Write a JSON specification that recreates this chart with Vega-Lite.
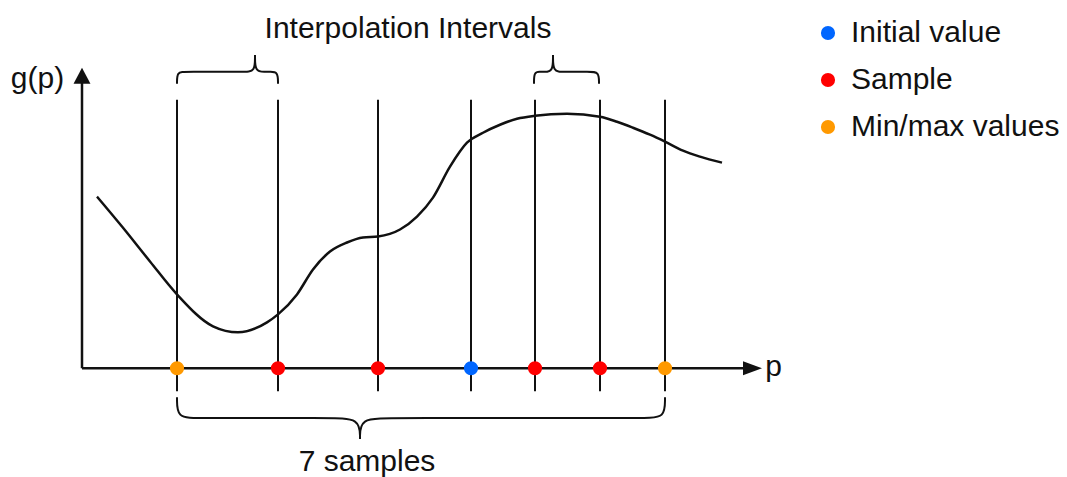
{
  "$schema": "https://vega.github.io/schema/vega-lite/v6.json",
  "width": 1067,
  "height": 477,
  "autosize": {"type": "fit", "contains": "padding"},
  "padding": 0,
  "background": "white",
  "config": {"view": {"stroke": null}},
  "datasets": {
    "curve": [
      {"p": 15, "g": 172}, {"p": 40, "g": 142}, {"p": 68, "g": 107}, {"p": 95, "g": 74},
      {"p": 131, "g": 42}, {"p": 156, "g": 36}, {"p": 185, "g": 46}, {"p": 196, "g": 54},
      {"p": 215, "g": 74}, {"p": 231, "g": 99}, {"p": 248, "g": 117}, {"p": 265, "g": 126},
      {"p": 281, "g": 131}, {"p": 296, "g": 132}, {"p": 318, "g": 139}, {"p": 335, "g": 152},
      {"p": 351, "g": 171}, {"p": 368, "g": 202}, {"p": 385, "g": 226}, {"p": 401, "g": 236},
      {"p": 418, "g": 244}, {"p": 435, "g": 250}, {"p": 453, "g": 253}, {"p": 485, "g": 255},
      {"p": 518, "g": 252}, {"p": 535, "g": 247}, {"p": 551, "g": 241}, {"p": 568, "g": 234},
      {"p": 583, "g": 227}, {"p": 601, "g": 218}, {"p": 618, "g": 212}, {"p": 640, "g": 206}
    ],
    "braces": [
      {"id": "A", "k": 0, "p": 95, "g": 285}, {"id": "A", "k": 1, "p": 95, "g": 297},
      {"id": "A", "k": 2, "p": 103, "g": 297}, {"id": "A", "k": 3, "p": 163, "g": 297},
      {"id": "A", "k": 4, "p": 173, "g": 297}, {"id": "A", "k": 5, "p": 173, "g": 314},
      {"id": "B", "k": 0, "p": 173, "g": 314}, {"id": "B", "k": 1, "p": 173, "g": 297},
      {"id": "B", "k": 2, "p": 183, "g": 297}, {"id": "B", "k": 3, "p": 188, "g": 297},
      {"id": "B", "k": 4, "p": 196, "g": 297}, {"id": "B", "k": 5, "p": 196, "g": 285},
      {"id": "C", "k": 0, "p": 452, "g": 285}, {"id": "C", "k": 1, "p": 452, "g": 297},
      {"id": "C", "k": 2, "p": 458, "g": 297}, {"id": "C", "k": 3, "p": 462, "g": 297},
      {"id": "C", "k": 4, "p": 471, "g": 297}, {"id": "C", "k": 5, "p": 471, "g": 314},
      {"id": "D", "k": 0, "p": 471, "g": 314}, {"id": "D", "k": 1, "p": 471, "g": 297},
      {"id": "D", "k": 2, "p": 481, "g": 297}, {"id": "D", "k": 3, "p": 508, "g": 297},
      {"id": "D", "k": 4, "p": 517, "g": 297}, {"id": "D", "k": 5, "p": 517, "g": 285},
      {"id": "E", "k": 0, "p": 95, "g": -29}, {"id": "E", "k": 1, "p": 95, "g": -50},
      {"id": "E", "k": 2, "p": 115, "g": -50}, {"id": "E", "k": 3, "p": 248, "g": -50},
      {"id": "E", "k": 4, "p": 278, "g": -50}, {"id": "E", "k": 5, "p": 278, "g": -71},
      {"id": "F", "k": 0, "p": 278, "g": -71}, {"id": "F", "k": 1, "p": 278, "g": -50},
      {"id": "F", "k": 2, "p": 308, "g": -50}, {"id": "F", "k": 3, "p": 563, "g": -50},
      {"id": "F", "k": 4, "p": 583, "g": -50}, {"id": "F", "k": 5, "p": 583, "g": -29}
    ],
    "rules": [
      {"p": 0, "g": 0, "p2": 0, "g2": 289},
      {"p": 0, "g": 0, "p2": 668, "g2": 0}
    ],
    "lines": [
      {"p": 95, "g": 269, "g2": -23}, {"p": 196, "g": 269, "g2": -23},
      {"p": 296, "g": 269, "g2": -23}, {"p": 389, "g": 269, "g2": -23},
      {"p": 453, "g": 269, "g2": -23}, {"p": 518, "g": 269, "g2": -23},
      {"p": 583, "g": 269, "g2": -23}
    ],
    "samples": [
      {"p": 95, "g": 0, "kind": "Min/max values"},
      {"p": 196, "g": 0, "kind": "Sample"},
      {"p": 296, "g": 0, "kind": "Sample"},
      {"p": 389, "g": 0, "kind": "Initial value"},
      {"p": 453, "g": 0, "kind": "Sample"},
      {"p": 518, "g": 0, "kind": "Sample"},
      {"p": 583, "g": 0, "kind": "Min/max values"}
    ],
    "arrows": [
      {"p": 670.5, "g": 0, "dir": "x"},
      {"p": 0, "g": 293, "dir": "y"}
    ],
    "texts": [
      {"p": 326, "g": 331, "label": "Interpolation Intervals"},
      {"p": -44.5, "g": 281, "label": "g(p)"},
      {"p": 691.5, "g": -8, "label": "p"},
      {"p": 285, "g": -103, "label": "7 samples"}
    ]
  },
  "encoding": {
    "x": {"field": "p", "type": "quantitative", "scale": {"domain": [-82, 985], "nice": false, "zero": false}, "axis": null},
    "y": {"field": "g", "type": "quantitative", "scale": {"domain": [-108, 369], "nice": false, "zero": false}, "axis": null}
  },
  "layer": [
    {
      "data": {"name": "lines"},
      "mark": {"type": "rule", "color": "#111111", "strokeWidth": 2},
      "encoding": {"y2": {"field": "g2"}}
    },
    {
      "data": {"name": "rules"},
      "mark": {"type": "rule", "color": "#111111", "strokeWidth": 2.5},
      "encoding": {"x2": {"field": "p2"}, "y2": {"field": "g2"}}
    },
    {
      "data": {"name": "arrows"},
      "mark": {"type": "point", "filled": true, "opacity": 1, "color": "#111111", "size": 361, "strokeWidth": 0},
      "encoding": {
        "shape": {"field": "dir", "type": "nominal", "scale": {"domain": ["x", "y"], "range": ["M-1,-0.74L1,0L-1,0.74Z", "M-0.89,0.84L0,-0.84L0.89,0.84Z"]}, "legend": null}
      }
    },
    {
      "data": {"name": "curve"},
      "mark": {"type": "line", "color": "#111111", "strokeWidth": 2.5, "interpolate": "monotone"},
      "encoding": {}
    },
    {
      "data": {"name": "braces"},
      "mark": {"type": "line", "color": "#111111", "strokeWidth": 2, "interpolate": "basis"},
      "encoding": {
        "detail": {"field": "id", "type": "nominal"},
        "order": {"field": "k", "type": "quantitative"}
      }
    },
    {
      "data": {"name": "samples"},
      "mark": {"type": "point", "filled": true, "opacity": 1, "size": 200, "strokeWidth": 0, "shape": "circle"},
      "encoding": {
        "color": {
          "field": "kind", "type": "nominal",
          "scale": {"domain": ["Initial value", "Sample", "Min/max values"], "range": ["#0066ff", "#ff0000", "#ff9900"]},
          "legend": {
            "title": null, "orient": "none", "legendX": 813, "legendY": 18, "padding": 0,
            "rowPadding": 17, "symbolSize": 200, "symbolType": "circle", "symbolStrokeWidth": 0,
            "symbolOpacity": 1, "labelFontSize": 30, "labelFont": "Liberation Sans", "labelColor": "#111111",
            "labelOffset": 8, "labelLimit": 0
          }
        }
      }
    },
    {
      "data": {"name": "texts"},
      "mark": {"type": "text", "font": "Liberation Sans", "fontSize": 30, "color": "#111111", "align": "center", "baseline": "alphabetic"},
      "encoding": {"text": {"field": "label", "type": "nominal"}}
    }
  ]
}
